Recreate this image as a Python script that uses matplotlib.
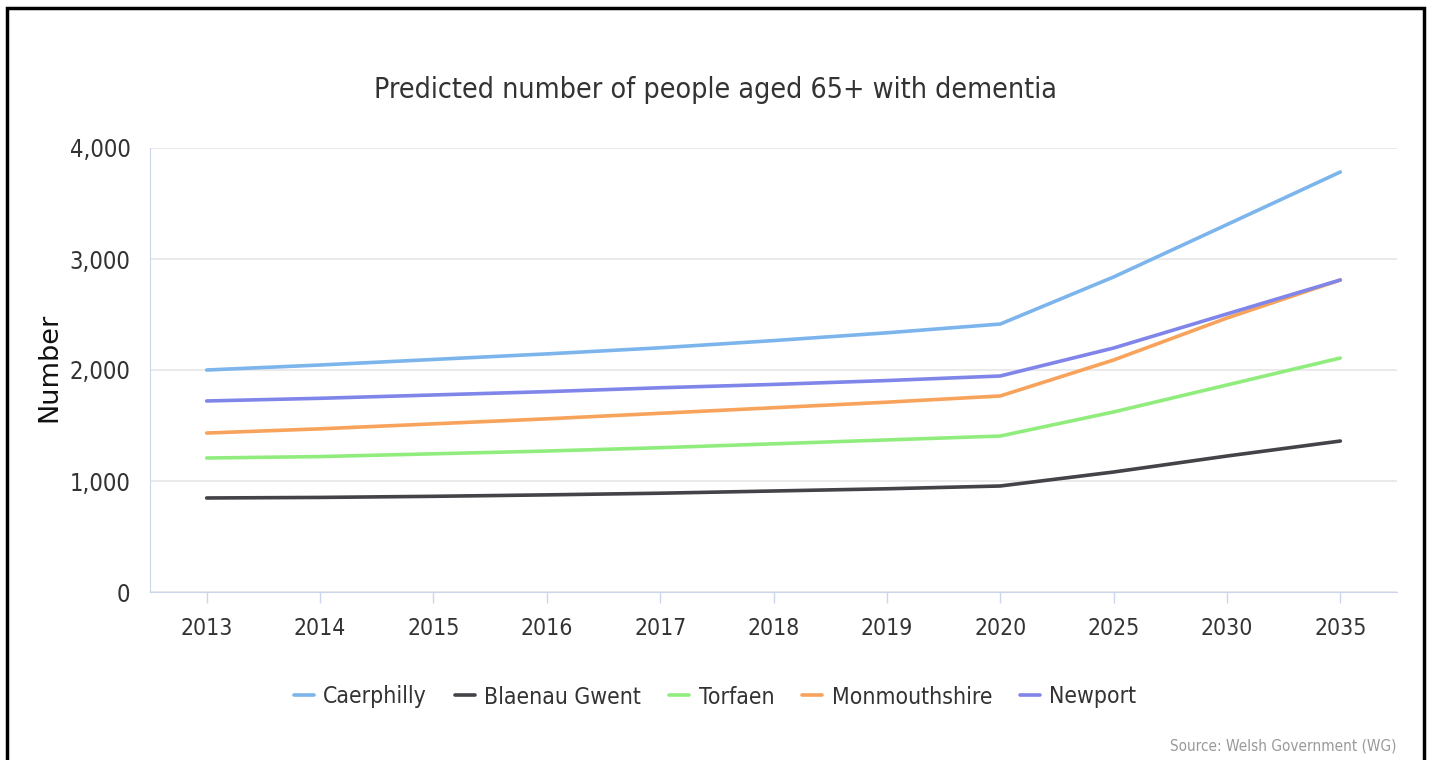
"""
Predicted number of people aged 65+ with dementia (Gwent area)
"""
import matplotlib
matplotlib.use("Agg")
import matplotlib.pyplot as plt
from matplotlib.patches import Rectangle

plt.rcParams['font.family'] = ['DejaVu Sans']
plt.rcParams['font.stretch'] = 'condensed'

years = ['2013', '2014', '2015', '2016', '2017', '2018', '2019', '2020', '2025', '2030', '2035']

caerphilly = [2000, 2045, 2095, 2145, 2200, 2265, 2335, 2414, 2838, 3310, 3784]
blaenau_gwent = [847, 852, 862, 875, 890, 910, 930, 955, 1081, 1225, 1360]
torfaen = [1207, 1220, 1245, 1270, 1300, 1335, 1370, 1405, 1622, 1865, 2108]
monmouthshire = [1432, 1470, 1515, 1560, 1610, 1660, 1710, 1766, 2090, 2468, 2811]
newport = [1721, 1745, 1775, 1805, 1840, 1870, 1905, 1946, 2198, 2505, 2811]

series = [
    ('Caerphilly', caerphilly, '#7cb5ec'),
    ('Blaenau Gwent', blaenau_gwent, '#434348'),
    ('Torfaen', torfaen, '#90ed7d'),
    ('Monmouthshire', monmouthshire, '#f7a35c'),
    ('Newport', newport, '#8085e9'),
]

fig = plt.figure(figsize=(14.31, 7.6), dpi=100)
ax = fig.add_axes([150 / 1431, 1 - 592 / 760, 1247 / 1431, 444 / 760])

x = list(range(len(years)))
for name, vals, col in series:
    ax.plot(x, vals, color=col, lw=2.6, label=name, solid_capstyle='round')

ax.set_xlim(-0.5, len(years) - 0.5)
ax.set_ylim(0, 4000)
ax.set_xticks(x)
ax.set_xticklabels(years)
ax.set_yticks([0, 1000, 2000, 3000, 4000])
ax.set_yticklabels(['0', '1,000', '2,000', '3,000', '4,000'])
ax.grid(axis='y', color='#e6e6e6', lw=1.2)
ax.set_axisbelow(True)

for s in ['top', 'right']:
    ax.spines[s].set_visible(False)
ax.spines['left'].set_color('#ccd6eb')
ax.spines['bottom'].set_color('#ccd6eb')
ax.tick_params(axis='x', colors='#ccd6eb', length=8, width=1, labelcolor='#333333',
               labelsize=16.5, pad=10)
ax.tick_params(axis='y', length=0, labelcolor='#333333', labelsize=17, pad=14)

ax.set_ylabel('Number', fontstretch='normal', fontsize=19.5, color='#111111')
ax.yaxis.set_label_coords(-0.0706, 0.505)

fig.text(716 / 1431, 1 - 90 / 760, 'Predicted number of people aged 65+ with dementia',
         ha='center', va='center', fontsize=20.5, color='#333333')

ax.legend(loc='center', bbox_to_anchor=(715 / 1431, 1 - 697 / 760),
          bbox_transform=fig.transFigure, ncol=5, frameon=False,
          fontsize=16.5, handlelength=0.9, columnspacing=1.2, handletextpad=0.4,
          labelcolor='#333333')

fig.text(1397 / 1431, 1 - 746 / 760, 'Source: Welsh Government (WG)', ha='right',
         va='center', fontsize=11, color='#999999')

fig.patches.append(Rectangle((7 / 1431, -0.05), 1417 / 1431, 1.05 - 8 / 760,
                             transform=fig.transFigure, fill=False, ec='black', lw=2.5))

plt.savefig('out.png')
